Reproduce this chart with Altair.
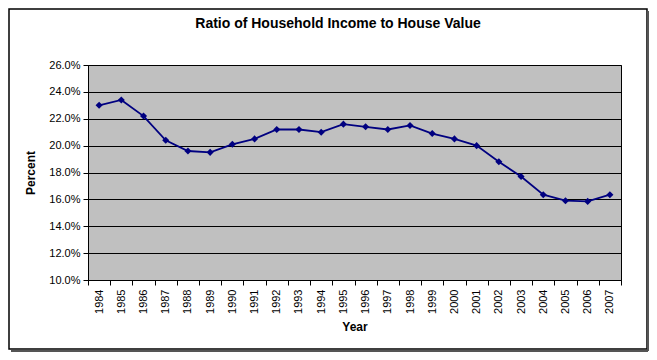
import altair as alt
import pandas as pd

years = [str(y) for y in range(1984, 2008)]
ratio_pct = [23.0, 23.4, 22.2, 20.4, 19.6, 19.5, 20.1, 20.5, 21.2, 21.2, 21.0, 21.6,
             21.4, 21.2, 21.5, 20.9, 20.5, 20.0, 18.8, 17.7, 16.35, 15.9, 15.85, 16.35]
y_ticks_pct = [10, 12, 14, 16, 18, 20, 22, 24, 26]
title_text = "Ratio of Household Income to House Value"

df = pd.DataFrame({"Year": years, "Ratio": [v / 100 for v in ratio_pct]})

FONT = "Liberation Sans"
W, H = 533, 215
PL, PT, PR, PB = 80, 57, 28, 72

x_enc = alt.X("Year:O", title="Year", sort=years,
              scale=alt.Scale(paddingInner=0, paddingOuter=0),
              axis=alt.Axis(labelAngle=270, tickBand="extent", grid=False,
                            labelFontSize=11, labelColor="black", labelFont=FONT,
                            titleFontSize=12, titleFont=FONT, titleFontWeight="bold",
                            titleColor="black", titlePadding=8, tickColor="black",
                            domainColor="black", tickSize=5, labelPadding=4))
y_enc = alt.Y("Ratio:Q", title="Percent",
              scale=alt.Scale(domain=[0.10, 0.26], nice=False, zero=False),
              axis=alt.Axis(values=[v / 100 for v in y_ticks_pct], format=".1%",
                            labelOverlap=False,
                            grid=True, gridColor="black", gridWidth=1.2,
                            labelFontSize=11, labelColor="black", labelFont=FONT,
                            titleFontSize=12, titleFont=FONT, titleFontWeight="bold",
                            titleColor="black", titlePadding=11, tickColor="black",
                            domainColor="black", tickSize=5, labelPadding=3))

base = alt.Chart(df)
line = base.mark_line(color="#000080", strokeWidth=1.8).encode(x=x_enc, y=y_enc)
pts = base.mark_point(shape="diamond", filled=True, color="#000080", size=50, opacity=1).encode(
    x=x_enc, y=y_enc)

one = alt.Data(values=[{"t": title_text}])
title = alt.Chart(one).mark_text(font=FONT, fontSize=14, fontWeight="bold", color="black",
                                 align="center", baseline="alphabetic").encode(
    text="t:N", x=alt.value(250), y=alt.value(-37))
frame = alt.Chart(one).mark_rect(
    filled=False, stroke="black", strokeWidth=1.5).encode(
    x=alt.value(-PL + 1), x2=alt.value(W + PR - 2),
    y=alt.value(-PT + 1), y2=alt.value(H + PB - 3))
shadow_r = alt.Chart(one).mark_rule(
    stroke="#555555", strokeWidth=2).encode(
    x=alt.value(W + PR - 1), y=alt.value(-PT + 3), y2=alt.value(H + PB - 1))
shadow_b = alt.Chart(one).mark_rule(
    stroke="#555555", strokeWidth=2).encode(
    x=alt.value(-PL + 3), x2=alt.value(W + PR - 1), y=alt.value(H + PB - 1))

chart = alt.layer(line, pts, title, frame, shadow_r, shadow_b).properties(
    width=W, height=H,
    autosize=alt.AutoSizeParams(type="none"),
    padding={"left": PL, "top": PT, "right": PR, "bottom": PB},
).configure(background="white").configure_view(fill="#C0C0C0", stroke="black", strokeWidth=1)

chart.save("out.html", embed_options={"renderer": "svg", "actions": False})
